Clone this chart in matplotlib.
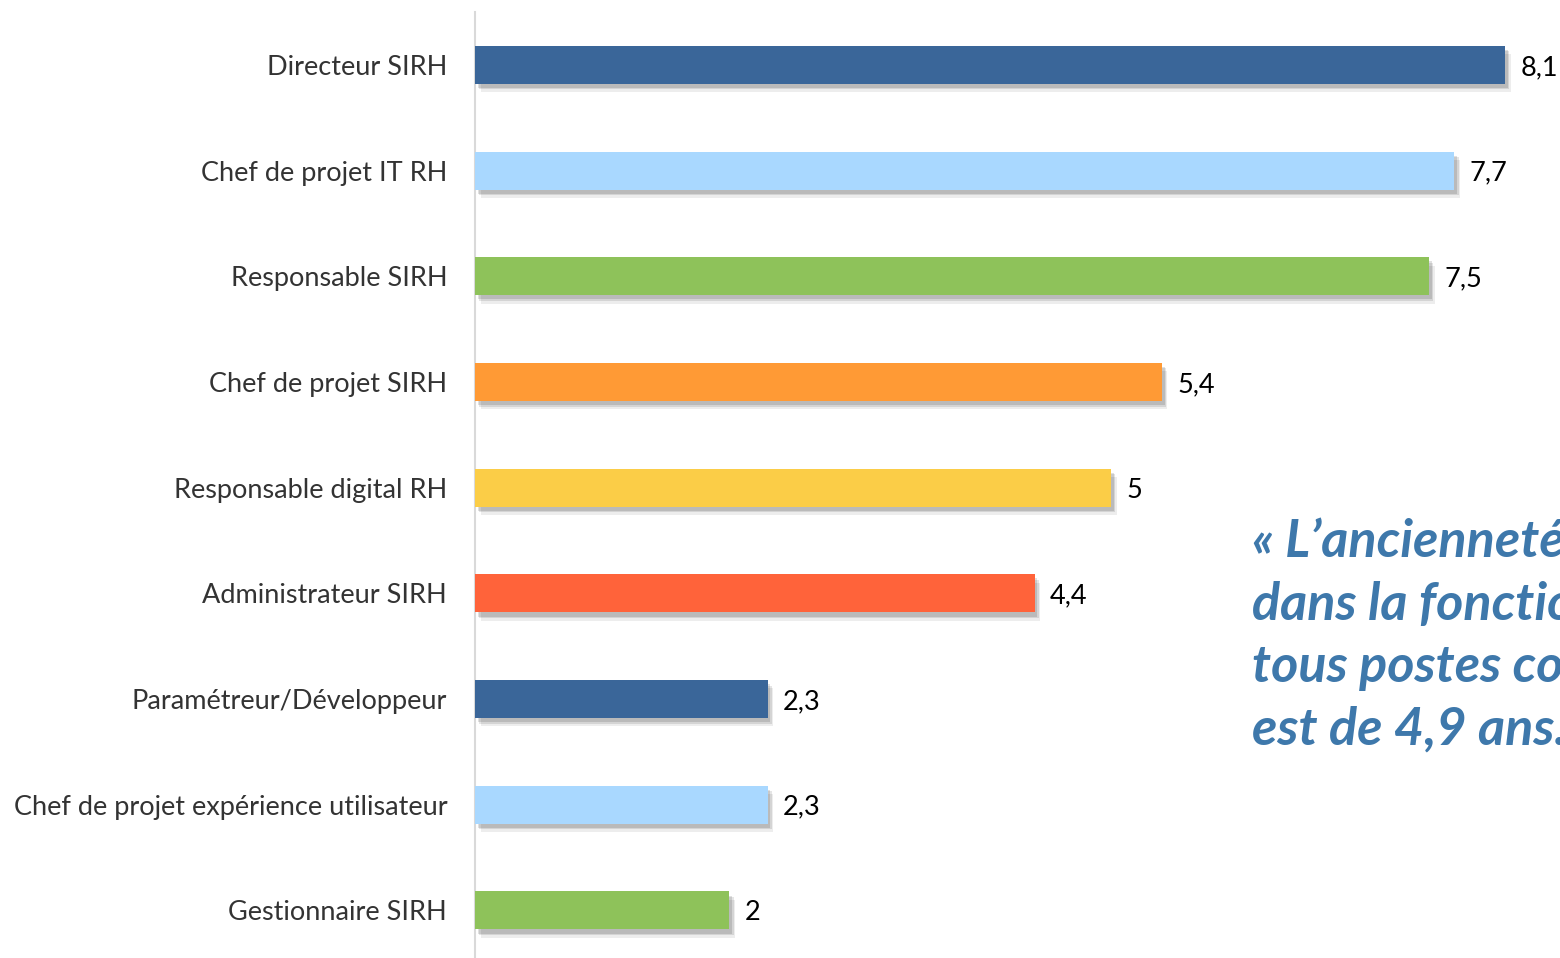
import matplotlib.pyplot as plt
import matplotlib.patheffects as pe

# Données : ancienneté moyenne dans la fonction (années)
postes = ["Directeur SIRH", "Chef de projet IT RH", "Responsable SIRH",
          "Chef de projet SIRH", "Responsable digital RH", "Administrateur SIRH",
          "Paramétreur/Développeur", "Chef de projet expérience utilisateur",
          "Gestionnaire SIRH"]
anciennete = [8.1, 7.7, 7.5, 5.4, 5.0, 4.4, 2.3, 2.3, 2.0]
couleurs = ["#3A6699", "#A9D8FF", "#8EC25A", "#FF9A35", "#FBCD47",
            "#FF633A", "#3A6699", "#A9D8FF", "#8EC25A"]

citation = "« L’ancienneté moyenne\ndans la fonction,\ntous postes confondus,\nest de 4,9 ans. »"

plt.rcParams['font.family'] = ['Lato', 'DejaVu Sans']

fig = plt.figure(figsize=(15.6, 9.58), dpi=100)
ax = fig.add_axes([475 / 1560, 0, 1 - 475 / 1560, (958 - 12) / 958])

pos = list(range(len(postes)))
ombre = [pe.SimplePatchShadow(offset=(3, -4), shadow_rgbFace='black', alpha=0.10),
         pe.SimplePatchShadow(offset=(4, -6), shadow_rgbFace='black', alpha=0.07),
         pe.SimplePatchShadow(offset=(2, -3), shadow_rgbFace='black', alpha=0.12),
         pe.Normal()]
bars = ax.barh(pos, anciennete, height=0.36, color=couleurs, zorder=3)
for b in bars:
    b.set_path_effects(ombre)

# Étiquettes de valeurs (virgule décimale)
for y, v in zip(pos, anciennete):
    txt = f"{v:g}".replace(".", ",")
    ax.annotate(txt, (v, y), xytext=(11, 0), textcoords='offset points',
                ha='left', va='center_baseline', fontsize=19.5, color='black')

ax.set_xlim(0, (1560 - 475) / 127.2)
ax.set_ylim(8.45, -0.5)
ax.set_yticks(pos)
ax.set_yticklabels(postes, fontsize=19.5, color='#333333')
ax.tick_params(axis='y', length=0, pad=20)
ax.set_xticks([])
for s in ['top', 'right', 'bottom']:
    ax.spines[s].set_visible(False)
ax.spines['left'].set_color('#D9D9D9')
ax.spines['left'].set_linewidth(1.5)

fig.text(1252 / 1560, 1 - 517 / 958, citation, fontsize=37.5, fontweight='bold',
         fontstyle='italic', color='#3E78AB', ha='left', va='top',
         linespacing=1.38)

plt.savefig("out.png", dpi=100)
